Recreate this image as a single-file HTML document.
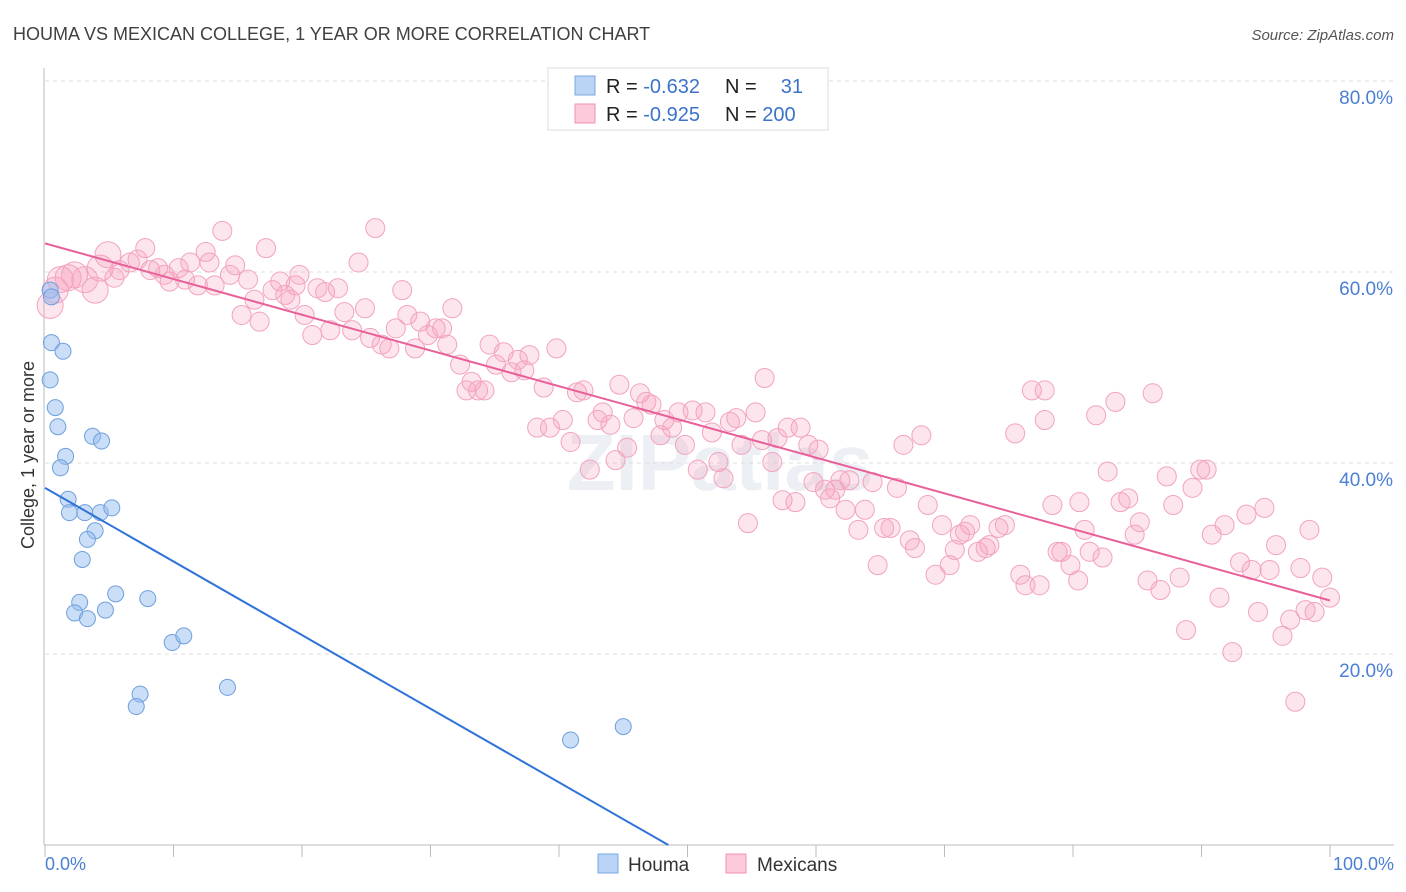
<!DOCTYPE html>
<html><head><meta charset="utf-8"><style>
body{margin:0;background:#fff;font-family:"Liberation Sans",sans-serif;}
svg{display:block}
</style></head><body>
<svg id="chart" width="1406" height="892">
<text x="13" y="40" font-size="18" fill="#404040">HOUMA VS MEXICAN COLLEGE, 1 YEAR OR MORE CORRELATION CHART</text>
<text x="1394" y="40" font-size="15" fill="#555" font-style="italic" text-anchor="end">Source: ZipAtlas.com</text>
<text x="720" y="490" font-size="80" fill="#eceff3" text-anchor="middle" font-weight="bold">ZIPatlas</text>
<g id="grid"></g>
<g id="axes"></g>
<g id="pts"></g>
<g id="lines"></g>
<text transform="translate(34,455) rotate(-90)" font-size="18" fill="#333" text-anchor="middle">College, 1 year or more</text>
<text x="45" y="870" font-size="18" fill="#4a7fd4">0.0%</text>
<text x="1394" y="870" font-size="18" fill="#4a7fd4" text-anchor="end">100.0%</text>
<g>
<rect x="548" y="68" width="280" height="62" fill="#fff" stroke="#ddd"/>
<rect x="575" y="76" width="20" height="19" fill="#b9d4f5" stroke="#7aa8e0"/>
<rect x="575" y="104" width="20" height="19" fill="#fccadb" stroke="#f090b0"/>
<text x="606" y="93" font-size="20" fill="#222">R = <tspan fill="#3b73c9">-0.632</tspan></text>
<text x="725" y="93" font-size="20" fill="#222">N = </text><text x="803" y="93" font-size="20" fill="#3b73c9" text-anchor="end">31</text>
<text x="606" y="121" font-size="20" fill="#222">R = <tspan fill="#3b73c9">-0.925</tspan></text>
<text x="725" y="121" font-size="20" fill="#222">N = <tspan fill="#3b73c9">200</tspan></text>
</g>
<g>
<rect x="598" y="854" width="20" height="19" fill="#b9d4f5" stroke="#7aa8e0"/>
<text x="628" y="871" font-size="19" fill="#333">Houma</text>
<rect x="726" y="854" width="20" height="19" fill="#fccadb" stroke="#f090b0"/>
<text x="757" y="871" font-size="19" fill="#333">Mexicans</text>
</g>
</svg>
<script>
const yTicks=[20,40,60,80];
const yTickLabels=["20.0%","40.0%","60.0%","80.0%"];
const xTicks=[0,10,20,30,40,50,60,70,80,90,100];
const houmaX=[0.4,0.5,0.5,1.4,0.4,0.8,1.0,1.6,1.2,1.8,1.9,3.1,4.3,5.2,3.9,3.3,2.9,3.7,4.4,2.7,2.3,3.3,4.7,5.5,8.0,9.9,10.8,7.4,7.1,14.2,40.9,45.0];
const houmaY=[58.1,57.4,52.6,51.7,48.7,45.8,43.8,40.7,39.5,36.2,34.8,34.8,34.8,35.3,32.9,32.0,29.9,42.8,42.3,25.4,24.3,23.7,24.6,26.3,25.8,21.2,21.9,15.8,14.5,16.5,11.0,12.4];
const mexX=[0.4,0.8,1.2,1.8,2.3,3.1,3.9,4.3,4.9,5.4,5.8,6.6,7.2,7.8,8.2,8.8,9.3,9.7,10.4,10.9,11.3,11.9,12.5,12.8,13.2,13.8,14.4,14.8,15.3,15.8,16.3,16.7,17.2,17.7,18.3,18.7,19.1,19.5,19.8,20.2,20.8,21.2,21.8,22.2,22.8,23.3,23.9,24.4,24.9,25.3,25.7,26.2,26.8,27.3,27.8,28.2,28.8,29.2,29.8,30.4,30.9,31.3,31.7,32.3,32.8,33.2,33.7,34.2,34.6,35.1,35.7,36.3,36.8,37.3,37.7,38.3,38.8,39.3,39.8,40.3,40.9,41.4,41.9,42.4,43.0,43.4,44.0,44.4,44.7,45.3,45.8,46.3,46.8,47.2,47.9,48.2,48.8,49.3,49.8,50.4,50.8,51.4,51.9,52.4,52.8,53.3,53.8,54.2,54.7,55.3,55.8,56.0,56.6,57.0,57.4,57.8,58.4,58.8,59.4,59.8,60.2,60.7,61.1,61.5,61.9,62.3,62.6,63.3,63.8,64.4,64.8,65.3,65.8,66.3,66.8,67.3,67.7,68.2,68.7,69.3,69.8,70.4,70.8,71.2,71.6,72.0,72.6,73.2,73.5,74.2,74.7,75.5,75.9,76.3,76.8,77.4,77.8,78.4,78.8,79.1,79.8,80.4,80.9,81.3,81.8,82.3,82.7,83.3,83.7,84.3,84.8,85.2,85.8,86.2,86.8,87.3,87.8,88.3,88.8,89.3,89.9,90.4,90.8,91.4,91.8,92.4,93.0,93.5,93.9,94.4,94.9,95.3,95.8,96.3,96.9,97.3,97.7,98.1,98.4,98.8,99.4,100,80.5,77.8];
const mexY=[56.5,58.1,59.2,59.4,59.7,59.2,58.1,60.4,61.8,59.4,60.2,61.0,61.3,62.5,60.2,60.4,59.7,59.0,60.4,59.2,61.0,58.6,62.1,61.0,58.6,64.3,59.7,60.7,55.5,59.2,57.1,54.8,62.5,58.1,59.0,57.6,57.1,58.6,59.7,55.5,53.4,58.3,57.9,53.9,58.3,55.8,53.9,61.0,56.2,53.1,64.6,52.4,52.0,54.1,58.1,55.5,52.0,54.8,53.4,54.1,54.1,52.4,56.2,50.3,47.6,48.5,47.6,47.6,52.4,50.3,51.6,49.5,50.8,49.7,51.3,43.7,47.9,43.7,52.0,44.5,42.2,47.4,47.6,39.3,44.5,45.3,44.0,40.3,48.2,41.6,44.7,47.3,46.4,46.1,42.9,44.5,43.7,45.3,41.9,45.5,39.3,45.3,43.2,40.1,38.4,44.3,44.7,41.9,33.7,45.3,42.4,48.9,40.1,42.6,36.1,43.7,35.9,43.7,41.9,38.0,41.4,37.2,36.3,37.2,38.2,35.1,38.2,33.0,35.1,38.0,29.3,33.2,33.2,37.4,41.9,31.9,31.1,42.9,35.6,28.3,33.5,29.3,30.9,32.5,32.8,33.5,30.7,31.1,31.4,33.2,33.5,43.1,28.3,27.2,47.6,27.2,44.5,35.6,30.7,30.7,29.3,27.7,33.0,30.7,45.0,30.1,39.1,46.4,35.9,36.3,32.5,33.8,27.7,47.3,26.7,38.6,35.6,28.0,22.5,37.4,39.3,39.3,32.5,25.9,33.5,20.2,29.6,34.6,28.8,24.4,35.3,28.8,31.4,21.9,23.6,15.0,29.0,24.6,33.0,24.4,28.0,25.9,35.9,47.6];
const houmaLine=[37.4,-0.771];
const mexLine=[63.0,-0.374];
const NS="http://www.w3.org/2000/svg";
const X0=45,X1=1330,Y0=845,PY=9.55;
function sx(v){return X0+(X1-X0)*v/100;}
function sy(v){return Y0-PY*v;}
function mk(tag,attrs,parent){const e=document.createElementNS(NS,tag);for(const k in attrs)e.setAttribute(k,attrs[k]);parent.appendChild(e);return e;}
const grid=document.getElementById('grid'),axes=document.getElementById('axes'),pts=document.getElementById('pts'),lines=document.getElementById('lines');
yTicks.forEach((t,i)=>{
 const l=mk('line',{x1:45,x2:1394,y1:sy(t),y2:sy(t),stroke:'#ddd','stroke-dasharray':'4,4'},grid);
 
 
 const tx=mk('text',{x:1393,y:sy(t)+23,'font-size':19,fill:'#4a7fd4','text-anchor':'end'},grid);
 tx.textContent=yTickLabels[i];
 
 
});
const ax=mk('line',{x1:44,x2:44,y1:68,y2:845,stroke:'#bbb'},axes);


const bx=mk('line',{x1:44,x2:1394,y1:845,y2:845,stroke:'#bbb'},axes);


xTicks.forEach(t=>{
 const l=mk('line',{x1:sx(t),x2:sx(t),y1:845,y2:857,stroke:'#bbb'},axes);
 
 
});
mexX.forEach((x,i)=>{
 const r=x<5?13:9.5;
 const c=mk('circle',{cx:sx(x),cy:sy(mexY[i]),r:r,fill:'rgba(248,160,190,0.28)',stroke:'#f2a3c0','stroke-width':1},pts);
 
 
});
houmaX.forEach((x,i)=>{
 const c=mk('circle',{cx:sx(x),cy:sy(houmaY[i]),r:8,fill:'rgba(150,190,240,0.5)',stroke:'#6f9fdc','stroke-width':1},pts);
 
 
});
const hEnd=-houmaLine[0]/houmaLine[1];
const hl=mk('line',{x1:sx(0),y1:sy(houmaLine[0]),x2:sx(hEnd),y2:sy(0),stroke:'#2f73d8','stroke-width':2},lines);


const ml=mk('line',{x1:sx(0),y1:sy(mexLine[0]),x2:sx(100),y2:sy(mexLine[0]+100*mexLine[1]),stroke:'#e8609a','stroke-width':2},lines);


</script>
</body></html>
